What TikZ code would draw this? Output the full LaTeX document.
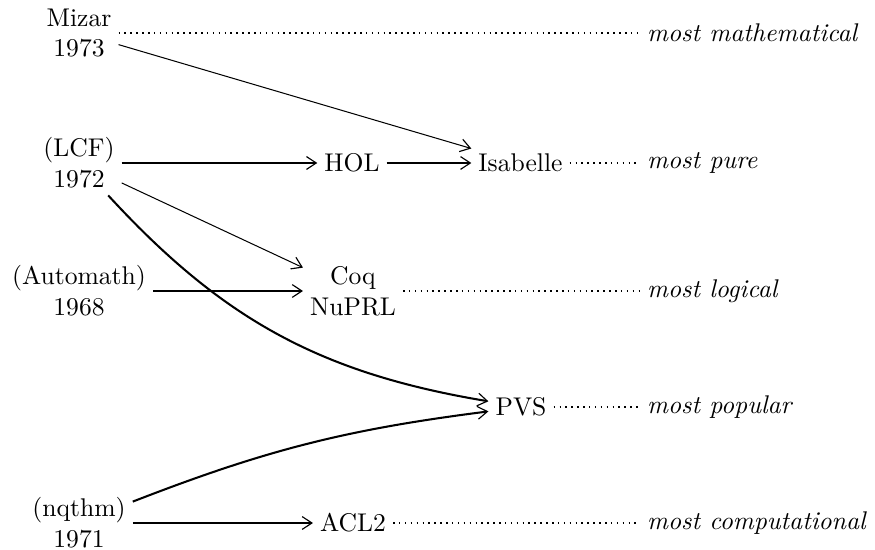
\documentclass[tikz,border=0pt]{standalone}
\usetikzlibrary{arrows.meta}
\begin{document}
\begin{tikzpicture}[x=0.3906pt,y=-0.3906pt,
  every node/.style={inner sep=2.8pt, outer sep=0pt, align=center},
  tipstyle/.style={-{Straight Barb[length=3.8pt,width=5pt,line width=0.45pt]}},
  thickarr/.style={line width=0.8pt, tipstyle},
  thinarr/.style={line width=0.4pt, tipstyle},
  dotline/.style={line width=0.6pt, dash pattern=on 0.6pt off 1.7pt},
  lbl/.style={anchor=west, font=\itshape}]
\useasboundingbox (0,0) rectangle (875,550);
% left column
\node (mizar) at (79,33) {Mizar\\1973};
\node (lcf) at (79,163) {(LCF)\\1972};
\node (auto) at (79,291) {(Automath)\\1968};
\node (nq) at (79,523) {(nqthm)\\1971};
% middle
\node (hol) at (352,163) {HOL};
\node (isa) at (520.5,163) {Isabelle};
\node (coq) at (353,291) {Coq\\NuPRL};
\node (pvs) at (521,407) {PVS};
\node (acl) at (353,523) {ACL2};
% right labels
\node[lbl] (m1) at (640,33) {most mathematical};
\node[lbl] (m2) at (640,163) {most pure};
\node[lbl] (m3) at (640,291) {most logical};
\node[lbl] (m4) at (640,407) {most popular};
\node[lbl] (m5) at (640,523) {most computational};
% dotted
\draw[dotline] (mizar.east) -- (m1.west);
\draw[dotline] (isa.east) -- (m2.west);
\draw[dotline] (coq.east) -- (m3.west);
\draw[dotline] (pvs.east) -- (m4.west);
\draw[dotline] (acl.east) -- (m5.west);
% arrows
\draw[thinarr] (mizar) -- (isa);
\draw[thickarr] (lcf) -- (hol);
\draw[thickarr] (hol) -- (isa);
\draw[thinarr] (lcf) -- (coq);
\draw[thickarr] (auto) -- (coq);
\draw[thickarr] (lcf) to[bend right=19] (pvs);
\draw[thickarr] (nq) to[bend left=7] (pvs);
\draw[thickarr] (nq) -- (acl);
\end{tikzpicture}
\end{document}
